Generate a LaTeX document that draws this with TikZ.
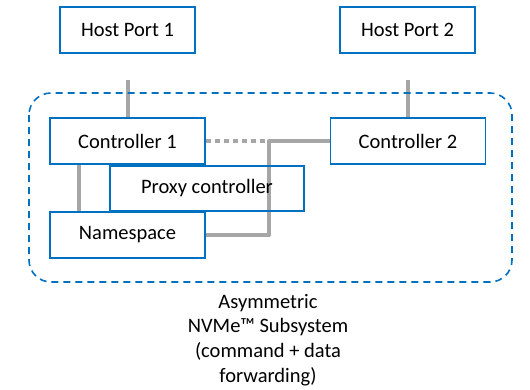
\documentclass[tikz,border=0pt]{standalone}
\usepackage{fontspec}
\setmainfont{Carlito}
\usetikzlibrary{backgrounds}
\definecolor{boxblue}{HTML}{0070C0}
\definecolor{linkgray}{HTML}{A6A6A6}
\begin{document}
\begin{tikzpicture}
    [x=1pt,y=-1pt,
    box/.style={rectangle,draw=boxblue,line width=1.6pt,fill=white,
      inner sep=0pt,minimum width=155pt,minimum height=46pt,
      font=\fontsize{20.5}{24}\selectfont},
    link/.style={draw=linkgray,line width=4pt,line join=round},
    subsys/.style={draw=boxblue,line width=1.6pt,rounded corners=22pt,
      dash pattern=on 7pt off 5pt}]

    \useasboundingbox (0,0) rectangle (530,389);

    \draw[subsys] (29,93) rectangle (512,282);

    \node[box,minimum width=135pt] (hp1)   at (127.5,30)   {Host Port 1};
    \node[box,minimum width=135pt] (hp2)   at (407.5,30)   {Host Port 2};
    \node[box]                     (c1)    at (127.5,141)  {Controller 1};
    \node[box]                     (c2)    at (408,141)    {Controller 2};
    \node[box,fill=none,minimum width=194pt,minimum height=45pt]
                                   (proxy) at (207,188.5)  {Proxy controller};
    \node[box]                     (ns)    at (127.5,235)  {Namespace};

    \node[align=center,font=\fontsize{20.5}{24.7}\selectfont]
      (caption) at (268,340) {Asymmetric\\NVMe™ Subsystem\\(command + data\\forwarding)};

    \coordinate (hp1end) at (127.5,80);
    \coordinate (hp2end) at (408,80);
    \coordinate (bend)   at (269,141);

    \begin{scope}[on background layer]
      \draw[link] (hp1end) -- (c1.north);
      \draw[link] (hp2end) -- (c2.north);
      \draw[link,dash pattern=on 5pt off 4pt] (c1.east) -- (c2.west);
      \draw[link] (c2.west) -- (bend) |- (ns.east);
      \draw[link] ([xshift=30pt]c1.south west) -- ([xshift=30pt]ns.north west);
    \end{scope}

\end{tikzpicture}
\end{document}
